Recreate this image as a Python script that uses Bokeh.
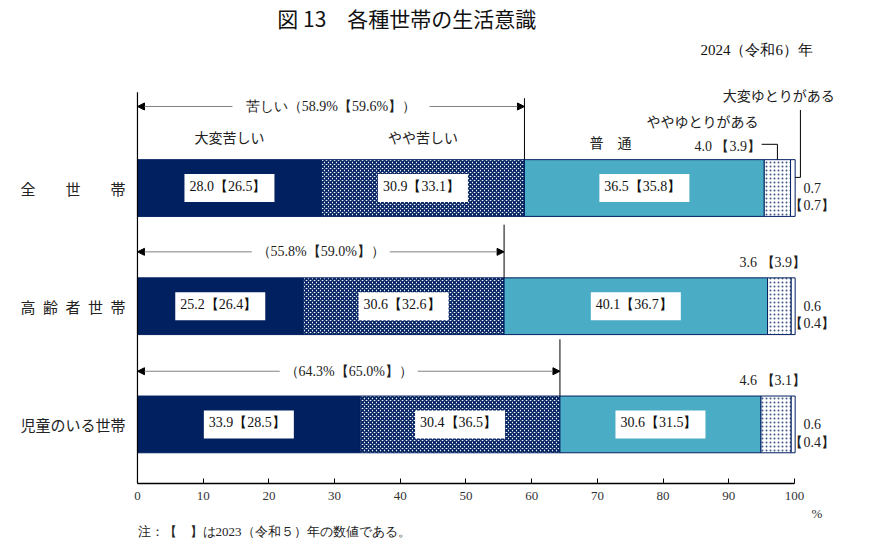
from bokeh.core.properties import value
from bokeh.embed import file_html
from bokeh.models import Arrow, ColumnDataSource, NormalHead, Range1d, Title
from bokeh.plotting import figure
from bokeh.resources import INLINE

# rows, top to bottom
households = ["全世帯", "高齢者世帯", "児童のいる世帯"]
household_labels = ["全\u3000\u3000世\u3000\u3000帯", "高\u2002齢\u2002者\u2002世\u2002帯", "児童のいる世帯"]
categories = ["大変苦しい", "やや苦しい", "普\u3000通", "ややゆとりがある", "大変ゆとりがある"]

# 2024 (%)
very_hard_2024 = [28.0, 25.2, 33.9]
hard_2024 = [30.9, 30.6, 30.4]
normal_2024 = [36.5, 40.1, 30.6]
some_ease_2024 = [4.0, 3.6, 4.6]
much_ease_2024 = [0.7, 0.6, 0.6]
# 2023 (%) shown in brackets
very_hard_2023 = [26.5, 26.4, 28.5]
hard_2023 = [33.1, 32.6, 36.5]
normal_2023 = [35.8, 36.7, 31.5]
some_ease_2023 = [3.9, 3.9, 3.1]
much_ease_2023 = [0.7, 0.4, 0.4]
# 苦しい total
hardship_2024 = [58.9, 55.8, 64.3]
hardship_2023 = [59.6, 59.0, 65.0]

x_ticks = [0, 10, 20, 30, 40, 50, 60, 70, 80, 90, 100]

NAVY = "#002060"
TEAL = "#4BACC6"
SERIF = value("Liberation Serif")
JP = value("Noto Sans CJK JP")

rows = [2, 1, 0]
BAR_H = 0.48

p = figure(width=862, height=538, output_backend="svg", toolbar_location=None,
           x_range=Range1d(-19.63, 110.35), y_range=Range1d(-0.5, 3.519),
           y_axis_location=None, min_border_left=8, min_border_right=0,
           min_border_top=8, min_border_bottom=54)
p.outline_line_color = None
p.grid.visible = False

# stacked bars
series = [very_hard_2024, hard_2024, normal_2024, some_ease_2024, much_ease_2024]
lefts = [[0.0] * 3]
for s in series[:-1]:
    lefts.append([a + b for a, b in zip(lefts[-1], s)])
rights = [[a + b for a, b in zip(l, s)] for l, s in zip(lefts, series)]

styles = [
    dict(fill_color=NAVY),
    dict(fill_color="white", hatch_pattern="diagonal_cross", hatch_color=NAVY, hatch_scale=4, hatch_weight=1.6),
    dict(fill_color=TEAL),
    dict(fill_color="white", hatch_pattern="dot", hatch_color=NAVY, hatch_alpha=0.75, hatch_scale=4, hatch_weight=0.6),
    dict(fill_color="white"),
]
for l, r, st in zip(lefts, rights, styles):
    p.hbar(y=rows, left=l, right=r, height=BAR_H, line_color=NAVY, line_width=1, **st)

# value boxes in the three large segments
prev = [very_hard_2023, hard_2023, normal_2023]
for i in range(3):
    src = ColumnDataSource(dict(
        x=[(a + b) / 2 for a, b in zip(lefts[i], rights[i])], y=rows,
        t=[f"{a:.1f}【{b:.1f}】" for a, b in zip(series[i], prev[i])]))
    p.text(x="x", y="y", text="t", source=src, text_align="center", text_baseline="middle",
           text_font=SERIF, text_font_size="14px", text_color="#111",
           background_fill_color="white", padding=[5, 8, 5, 8])

# household labels
p.text(x=[-17.8] * 3, y=rows, text=household_labels, text_font=JP, text_font_size="15px",
       text_align="left", text_baseline="middle", text_color="#222")

# category headings above first row
head_x = [(lefts[0][0] + rights[0][0]) / 2, (lefts[1][0] + rights[1][0]) / 2, 72.0, 86.0, 97.6]
head_y = [2.43, 2.43, 2.39, 2.565, 2.785]
p.text(x=head_x, y=head_y, text=categories, text_font=JP, text_font_size="14px",
       text_align="center", text_baseline="middle", text_color="#222")

# hardship brackets
gap = [15.0, 10.5, 10.5]
bracket_off = [0.69, 0.46, 0.45]
top_off = [0.76, 0.69, 0.72]
by = [r + o for r, o in zip(rows, bracket_off)]
arr_src = ColumnDataSource(dict(
    x0=[t / 2 - g for t, g in zip(hardship_2024, gap)] + [t / 2 + g for t, g in zip(hardship_2024, gap)],
    x1=[0.0] * 3 + hardship_2024,
    y=by + by))
p.add_layout(Arrow(end=NormalHead(size=7, fill_color="black", line_color="black"),
                   x_start="x0", y_start="y", x_end="x1", y_end="y", source=arr_src,
                   line_color="#808080", line_width=1))
bracket_text = [f"（{a:.1f}%【{b:.1f}%】）" for a, b in zip(hardship_2024, hardship_2023)]
bracket_text[0] = "苦しい" + bracket_text[0]
p.text(x=[t / 2 for t in hardship_2024], y=by, text=bracket_text, text_font=SERIF,
       text_font_size="14px", text_align="center", text_baseline="middle", text_color="#222")
p.segment(x0=hardship_2024, y0=[r + o for r, o in zip(rows, top_off)],
          x1=hardship_2024, y1=[r + BAR_H / 2 for r in rows], line_color="black", line_width=1)

# left vertical line
p.segment(x0=[0], y0=[-0.5], x1=[0], y1=[2.81], line_color="black", line_width=1.2)

# small segments: ややゆとりがある
mid4 = [(a + b) / 2 for a, b in zip(lefts[3], rights[3])]
se_text = [f"{a:.1f} 【{b:.1f}】" for a, b in zip(some_ease_2024, some_ease_2023)]
p.text(x=[mid4[0] - 2.5], y=[rows[0] + 0.35], text=[se_text[0]], text_font=SERIF,
       text_font_size="14px", text_align="right", text_baseline="middle", text_color="#222")
p.text(x=[96.7, 96.7], y=[r + 0.37 for r in rows[1:]], text=se_text[1:], text_font=SERIF,
       text_font_size="14px", text_align="center", text_baseline="middle", text_color="#222")
p.line(x=[mid4[0] - 2.4, mid4[0], mid4[0]], y=[rows[0] + 0.37, rows[0] + 0.37, rows[0] + BAR_H / 2],
       line_color="black", line_width=1)

# 大変ゆとりがある
p.line(x=[100.9, 100.9, rights[4][0]], y=[2.66, 2.09, 2.09], line_color="black", line_width=1)
p.text(x=[102.7] * 3, y=rows, text=[f"{v:.1f}" for v in much_ease_2024], text_font=SERIF,
       text_font_size="14px", text_align="center", text_baseline="middle", text_color="#222")
p.text(x=[102.7] * 3, y=[r - 0.15 for r in rows], text=[f"【{v:.1f}】" for v in much_ease_2023],
       text_font=SERIF, text_font_size="14px", text_align="center", text_baseline="middle",
       text_color="#222")

# titles
p.text(x=[41.0], y=[3.44], text=["図 13\u3000各種世帯の生活意識"], text_font=JP, text_font_size="21px",
       text_align="center", text_baseline="middle", text_color="#111")
p.text(x=[102.8], y=[3.165], text=["2024（令和6）年"], text_font=SERIF, text_font_size="15px",
       text_align="right", text_baseline="middle", text_color="#111")

# x axis
p.xaxis.ticker = x_ticks
p.xaxis.bounds = (0, 100)
p.xaxis.axis_line_width = 1.5
p.xaxis.axis_line_color = "black"
p.xaxis.major_tick_in = 5
p.xaxis.major_tick_out = 0
p.xaxis.major_tick_line_color = "black"
p.xaxis.minor_tick_line_color = None
p.xaxis.major_label_standoff = 8
p.xaxis.major_label_text_font = "Liberation Serif"
p.xaxis.major_label_text_font_size = "13px"
p.xaxis.major_label_text_color = "#333"

p.add_layout(Title(text="%", align="left", offset=803, standoff=2, text_font="Liberation Serif",
                   text_font_size="13px", text_font_style="normal", text_color="#333"), "below")
p.add_layout(Title(text="注：【\u3000】は2023（令和５）年の数値である。", align="left", offset=129,
                   standoff=0, text_font="Liberation Serif", text_font_size="13px",
                   text_font_style="normal", text_color="#222"), "below")

open("out.html", "w").write(file_html(p, INLINE))
